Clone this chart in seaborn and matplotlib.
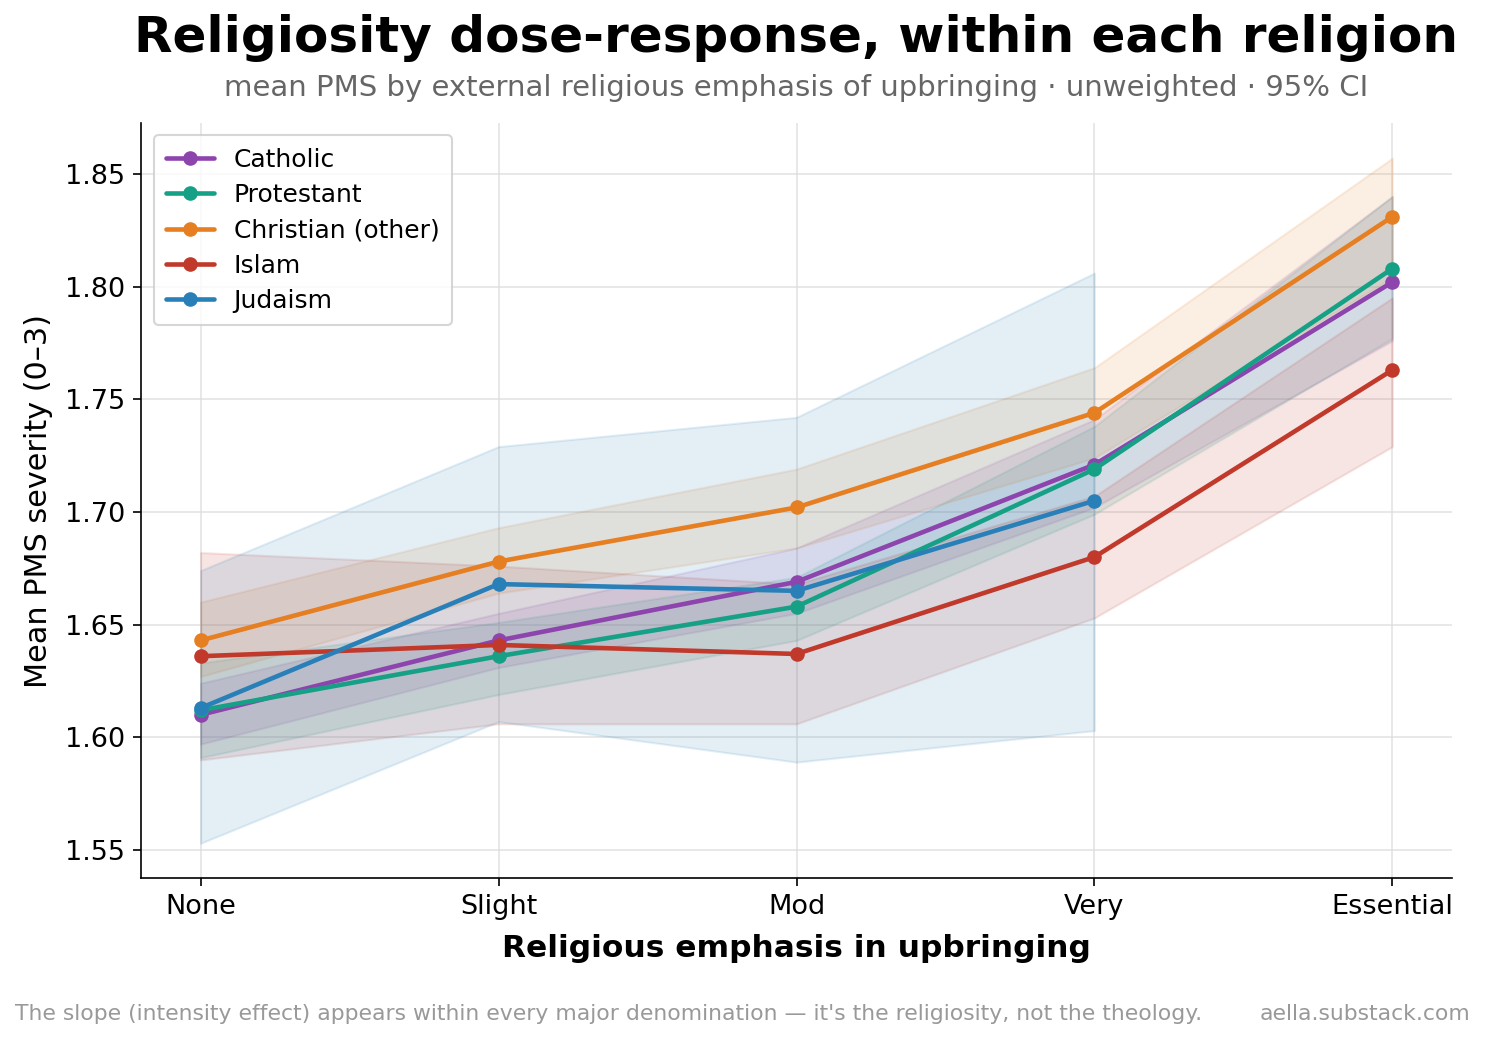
import pandas as pd
import seaborn as sns
import matplotlib.pyplot as plt

# Emphasis levels on the x axis
levels = ['None', 'Slight', 'Mod', 'Very', 'Essential']
religions = ['Catholic', 'Protestant', 'Christian (other)', 'Islam', 'Judaism']
colors = ['#8e44ad', '#16a085', '#e67e22', '#c0392b', '#2980b9']

# Mean PMS per level (Judaism has no "Essential" group)
catholic_mean = [1.610, 1.643, 1.669, 1.721, 1.802]
catholic_lo = [1.597, 1.631, 1.655, 1.702, 1.776]
catholic_hi = [1.624, 1.655, 1.684, 1.741, 1.840]

protestant_mean = [1.612, 1.636, 1.658, 1.719, 1.808]
protestant_lo = [1.591, 1.619, 1.643, 1.699, 1.777]
protestant_hi = [1.633, 1.651, 1.671, 1.738, 1.840]

christian_mean = [1.643, 1.678, 1.702, 1.744, 1.831]
christian_lo = [1.627, 1.664, 1.684, 1.724, 1.804]
christian_hi = [1.660, 1.693, 1.719, 1.764, 1.857]

islam_mean = [1.636, 1.641, 1.637, 1.680, 1.763]
islam_lo = [1.590, 1.606, 1.606, 1.653, 1.729]
islam_hi = [1.682, 1.676, 1.668, 1.707, 1.795]

judaism_mean = [1.613, 1.668, 1.665, 1.705]
judaism_lo = [1.553, 1.607, 1.589, 1.603]
judaism_hi = [1.674, 1.729, 1.742, 1.806]

means = [catholic_mean, protestant_mean, christian_mean, islam_mean, judaism_mean]
los = [catholic_lo, protestant_lo, christian_lo, islam_lo, judaism_lo]
his = [catholic_hi, protestant_hi, christian_hi, islam_hi, judaism_hi]

rows = []
for rel, m, lo, hi in zip(religions, means, los, his):
    for i in range(len(m)):
        rows.append({'religion': rel, 'x': i, 'level': levels[i],
                     'mean': m[i], 'lo': lo[i], 'hi': hi[i]})
df = pd.DataFrame(rows)

sns.set_style('white')
plt.rcParams['font.family'] = ['DejaVu Sans']
for k in ['text.color', 'axes.labelcolor', 'xtick.color', 'ytick.color', 'axes.edgecolor']:
    plt.rcParams[k] = 'black'

fig = plt.figure(figsize=(9.9, 6.927), dpi=150)
ax = fig.add_axes([141 / 1485, 1 - 878 / 1039, (1452 - 141) / 1485, (878 - 123) / 1039])

# CI bands first
for rel, c in zip(religions, colors):
    d = df[df['religion'] == rel]
    ax.fill_between(d['x'], d['lo'], d['hi'], color=c, alpha=0.13, lw=1)

sns.lineplot(data=df, x='x', y='mean', hue='religion', hue_order=religions,
             palette=colors, marker='o', markersize=7, markeredgewidth=0,
             linewidth=2.2, ax=ax, legend=True)

ax.set_xlim(-0.2, 4.2)
ax.set_ylim(1.5376, 1.8726)
ax.set_xticks(range(len(levels)))
ax.set_xticklabels(levels)
ax.set_yticks([1.55, 1.60, 1.65, 1.70, 1.75, 1.80, 1.85])
ax.tick_params(axis='both', labelsize=13, length=4, left=True, bottom=True)
ax.grid(True, color='#dddddd', linewidth=0.8, alpha=0.8)
ax.set_axisbelow(True)
sns.despine(ax=ax)

ax.set_xlabel('Religious emphasis in upbringing', fontsize=15, fontweight='bold', labelpad=7)
ax.set_ylabel('Mean PMS severity (0–3)', fontsize=14.5, labelpad=6)

leg = ax.legend(loc='upper left', fontsize=12, frameon=True, borderpad=0.5,
                handlelength=1.9, labelspacing=0.45)
leg.get_frame().set_edgecolor('#cccccc')

fig.text(0.536, 0.963, 'Religiosity dose-response, within each religion',
         ha='center', va='center', fontsize=24, fontweight='bold')
fig.text(0.536, 0.915, 'mean PMS by external religious emphasis of upbringing · unweighted · 95% CI',
         ha='center', va='center', fontsize=14, color='#666666')
fig.text(0.01, 0.024, "The slope (intensity effect) appears within every major denomination — it's the religiosity, not the theology.",
         ha='left', va='center', fontsize=10.5, color='#999999')
fig.text(0.99, 0.024, 'aella.substack.com', ha='right', va='center', fontsize=10.5, color='#999999')

fig.savefig('out.png', dpi=150)
